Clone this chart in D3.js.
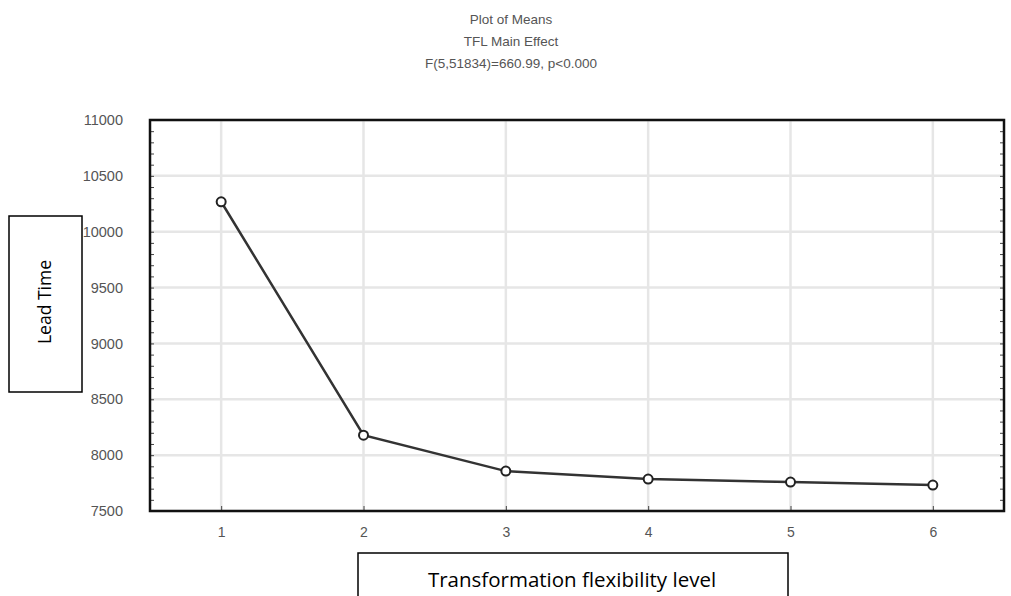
<!DOCTYPE html>
<html><head><meta charset="utf-8">
<script src="https://cdn.jsdelivr.net/npm/d3@7"></script>
<style>body{margin:0;background:#fff}svg{display:block}</style>
</head><body>
<svg id="c" width="1011" height="596"></svg>
<script>
const titleLines = ["Plot of Means", "TFL Main Effect", "F(5,51834)=660.99, p<0.000"];
const categories = [1, 2, 3, 4, 5, 6];
const leadTime = [10268, 8179, 7857, 7786, 7759, 7732];
const yTicks = [7500, 8000, 8500, 9000, 9500, 10000, 10500, 11000];
const yLabel = "Lead Time";
const xLabel = "Transformation flexibility level";

const svg = d3.select("#c");
const L = 150, R = 1004, T = 120, B = 511;
const x = d3.scaleLinear().domain([0.5, 6.5]).range([L, R]);
const y = d3.scaleLinear().domain([7500, 11000]).range([B, T]);
const font = "Liberation Sans, Arial, sans-serif";

// title
svg.append("g").selectAll("text").data(titleLines).join("text")
  .attr("x", 511).attr("y", (d, i) => 24 + i * 22)
  .attr("text-anchor", "middle")
  .attr("font-family", font)
  .attr("font-size", 13.5).attr("fill", "#555").text(d => d);

// grid
const g = svg.append("g");
g.selectAll(".hg").data(yTicks).join("line")
  .attr("x1", L).attr("x2", R).attr("y1", d => y(d)).attr("y2", d => y(d))
  .attr("stroke", "#e6e6e6").attr("stroke-width", 2.5);
g.selectAll(".vg").data(categories).join("line")
  .attr("y1", T).attr("y2", B).attr("x1", d => x(d)).attr("x2", d => x(d))
  .attr("stroke", "#e6e6e6").attr("stroke-width", 2.5);

// axes (inner ticks)
const yAxisL = d3.axisRight(y).tickValues(d3.range(7500, 11001, 100)).tickSize(4).tickFormat("");
svg.append("g").attr("transform", `translate(${L},0)`).call(yAxisL)
  .call(a => a.select(".domain").remove())
  .call(a => a.selectAll("line").attr("stroke", "#444"));
const yAxisR = d3.axisLeft(y).tickValues(d3.range(7500, 11001, 100)).tickSize(4).tickFormat("");
svg.append("g").attr("transform", `translate(${R},0)`).call(yAxisR)
  .call(a => a.select(".domain").remove())
  .call(a => a.selectAll("line").attr("stroke", "#444"));
const yLabels = d3.axisLeft(y).tickValues(yTicks).tickSize(0).tickPadding(27).tickFormat(d3.format("d"));
svg.append("g").attr("transform", `translate(${L},0)`).call(yLabels)
  .call(a => a.select(".domain").remove())
  .call(a => a.selectAll("text").attr("font-family", font)
    .attr("font-size", 14.5).attr("fill", "#555"));
const xAxis = d3.axisTop(x).tickValues(categories).tickSize(5).tickFormat("");
svg.append("g").attr("transform", `translate(0,${B})`).call(xAxis)
  .call(a => a.select(".domain").remove())
  .call(a => a.selectAll("line").attr("stroke", "#444"));
const xLabels = d3.axisBottom(x).tickValues(categories).tickSize(0).tickPadding(16).tickFormat(d3.format("d"));
svg.append("g").attr("transform", `translate(0,${B})`).call(xLabels)
  .call(a => a.select(".domain").remove())
  .call(a => a.selectAll("text").attr("font-family", font)
    .attr("font-size", 14).attr("fill", "#555"));

// frame
svg.append("rect").attr("x", L).attr("y", T).attr("width", R - L).attr("height", B - T)
  .attr("fill", "none").attr("stroke", "#111").attr("stroke-width", 2.5);

// line
const pts = categories.map((c, i) => [c, leadTime[i]]);
svg.append("path").datum(pts)
  .attr("d", d3.line().x(d => x(d[0])).y(d => y(d[1])))
  .attr("fill", "none").attr("stroke", "#333").attr("stroke-width", 2.5);
svg.append("g").selectAll("circle").data(pts).join("circle")
  .attr("cx", d => x(d[0])).attr("cy", d => y(d[1])).attr("r", 4.5)
  .attr("fill", "#fff").attr("stroke", "#222").attr("stroke-width", 2);

// label boxes
const yb = svg.append("g");
yb.append("rect").attr("x", 9).attr("y", 216).attr("width", 73).attr("height", 176)
  .attr("fill", "#fff").attr("stroke", "#000").attr("stroke-width", 1.5);
yb.append("text").attr("transform", "translate(51,302) rotate(-90)")
  .attr("text-anchor", "middle").attr("font-family", "Open Sans, sans-serif")
  .attr("font-size", 17.5).attr("fill", "#000").text(yLabel);
const xb = svg.append("g");
xb.append("rect").attr("x", 358).attr("y", 553).attr("width", 430).attr("height", 60)
  .attr("fill", "#fff").attr("stroke", "#000").attr("stroke-width", 1.5);
xb.append("text").attr("x", 572).attr("y", 587)
  .attr("text-anchor", "middle").attr("font-family", "Open Sans, sans-serif")
  .attr("font-size", 20.5).attr("fill", "#000").text(xLabel);
</script>
</body></html>
